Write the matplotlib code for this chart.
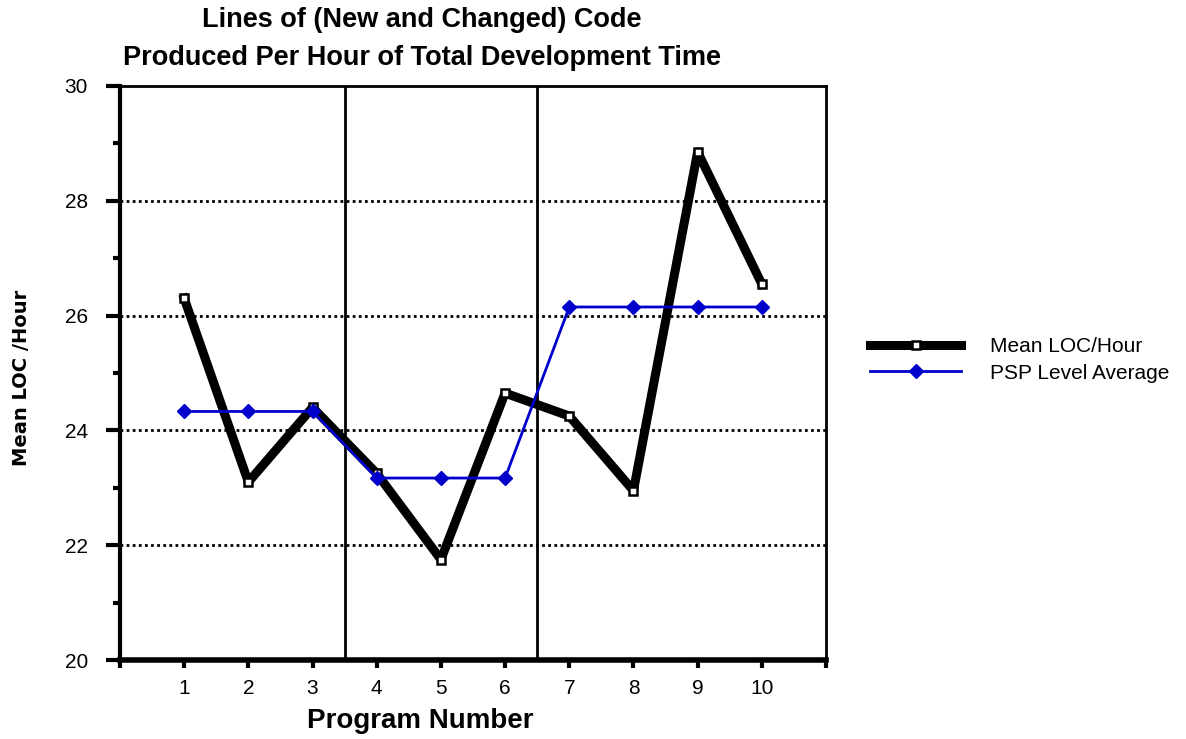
import matplotlib
matplotlib.use("Agg")
import matplotlib.pyplot as plt

programs = [1, 2, 3, 4, 5, 6, 7, 8, 9, 10]
mean_loc_hour = [26.3, 23.1, 24.4, 23.25, 21.75, 24.65, 24.25, 22.95, 28.85, 26.55]
psp_level_avg = [24.33, 24.33, 24.33, 23.17, 23.17, 23.17, 26.15, 26.15, 26.15, 26.15]
level_breaks = [3.5, 6.5]
grid_levels = [22, 24, 26, 28]

plt.rcParams['font.family'] = ['Liberation Sans', 'DejaVu Sans']

fig = plt.figure(figsize=(11.86, 7.39), dpi=100)
ax = fig.add_axes([120/1186, 1-660/739, (826-120)/1186, (660-86)/739])

for g in grid_levels:
    ax.axhline(g, color='black', linestyle=(0, (1, 1.2)), linewidth=2, zorder=1)
for b in level_breaks:
    ax.axvline(b, color='black', linewidth=2, zorder=1)

l_black, = ax.plot(programs, mean_loc_hour, color='black', linewidth=6.5, marker='s',
                   markersize=6, markerfacecolor='white', markeredgecolor='black',
                   markeredgewidth=1.8, label='Mean LOC/Hour', zorder=3)
l_blue, = ax.plot(programs, psp_level_avg, color='#0000cc', linewidth=2, marker='D',
                  markersize=7, markerfacecolor='#0000cc', markeredgecolor='#0000cc',
                  label='PSP Level Average', zorder=4)

ax.set_xlim(0, 11)
ax.set_ylim(20, 30)
ax.set_xticks(range(0, 12))
ax.set_xticklabels([''] + [str(p) for p in programs] + [''])
ax.set_yticks([20, 22, 24, 26, 28, 30])
ax.set_yticks([21, 23, 25, 27, 29], minor=True)
ax.tick_params(axis='both', which='both', direction='out', width=3, colors='black',
               labelsize=15)
ax.tick_params(axis='y', which='major', length=10, pad=13)
ax.tick_params(axis='y', which='minor', length=5)
ax.tick_params(axis='x', which='major', length=6, pad=8)

ax.spines['left'].set_linewidth(3)
ax.spines['bottom'].set_linewidth(4)
ax.spines['top'].set_linewidth(2)
ax.spines['right'].set_linewidth(2)

fig.text(420/1186, 1-721/739, 'Program Number', ha='center', va='center',
         fontsize=20, fontweight='bold')
fig.text(22/1186, 1-378/739, 'Mean LOC /Hour', rotation=90, ha='center', va='center',
         fontsize=14, fontweight='bold', family='DejaVu Sans')

fig.text(422/1186, 1-20/739, 'Lines of (New and Changed) Code',
         ha='center', va='center', fontsize=19.5, fontweight='bold')
fig.text(422/1186, 1-58/739, 'Produced Per Hour of Total Development Time',
         ha='center', va='center', fontsize=19.5, fontweight='bold')

leg = fig.legend([l_black, l_blue], ['Mean LOC/Hour', 'PSP Level Average'], loc='center left',
                 bbox_to_anchor=(851/1186, 1-360/739), frameon=False,
                 fontsize=15, handlelength=4.4, handletextpad=1.35, labelspacing=0.35)

fig.savefig('out.png', dpi=100)
